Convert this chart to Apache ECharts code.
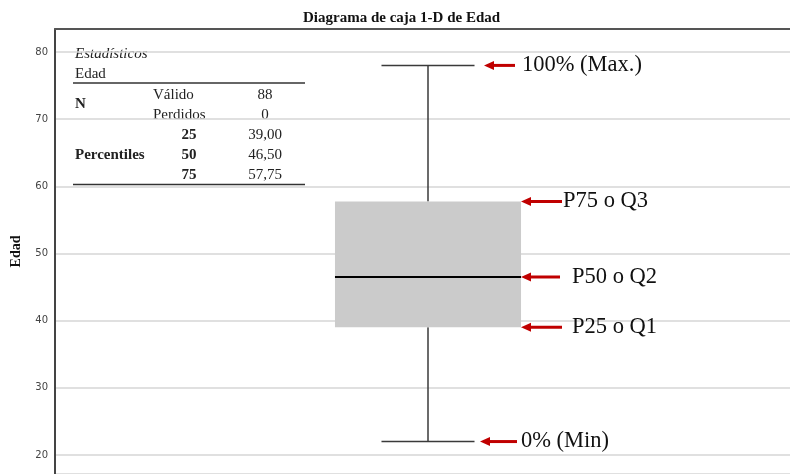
<!DOCTYPE html>
<html><head><meta charset="utf-8">
<script src="https://cdn.jsdelivr.net/npm/echarts@6/dist/echarts.min.js"></script>
<style>html,body{margin:0;padding:0;background:#fff}#c{width:790px;height:474px}</style>
</head><body><div id="c"></div>
<script>
// ---- data ----
const titleText = 'Diagrama de caja 1-D de Edad';
const axisName = 'Edad';
const categories = ['Edad'];
const minValues = [22];
const q1Values = [39];
const medianValues = [46.5];
const q3Values = [57.75];
const maxValues = [78];
const annotationLabels = ['100% (Max.)', 'P75 o Q3', 'P50 o Q2', 'P25 o Q1', '0% (Min)'];
const tableTitle = 'Estadísticos';
const tableVariable = 'Edad';
const nGroupLabel = 'N';
const nLabels = ['Válido', 'Perdidos'];
const nValues = ['88', '0'];
const percentileGroupLabel = 'Percentiles';
const percentileLabels = ['25', '50', '75'];
const percentileValues = ['39,00', '46,50', '57,75'];

// ---- layout (offsets relative to box centre) ----
const arrowLayout = [
  { tip: 56, tail: 87, text: 94 },
  { tip: 93, tail: 134, text: 135 },
  { tip: 93, tail: 132, text: 144 },
  { tip: 93, tail: 134, text: 144 },
  { tip: 52, tail: 89, text: 93 }
];
const serif = "'Liberation Serif','Times New Roman',serif";
const RED = '#c00000';

const boxData = categories.map((c, i) => [i, minValues[i], q1Values[i], medianValues[i], q3Values[i], maxValues[i]]);

function renderItem(params, api) {
  const xi = api.value(0);
  const vals = [api.value(1), api.value(2), api.value(3), api.value(4), api.value(5)];
  const band = api.size([1, 0])[0];
  const cx = api.coord([xi, vals[2]])[0];
  const hw = band * 0.1247;
  const cw = hw / 2;
  const y = v => api.coord([xi, v])[1];
  const yMin = y(vals[0]), yQ1 = y(vals[1]), yMed = y(vals[2]), yQ3 = y(vals[3]), yMax = y(vals[4]);
  const lineStyle = { stroke: '#3a3a3a', lineWidth: 1.5 };
  const children = [
    { type: 'line', shape: { x1: cx, y1: yMax, x2: cx, y2: yQ3 }, style: lineStyle },
    { type: 'line', shape: { x1: cx, y1: yQ1, x2: cx, y2: yMin }, style: lineStyle },
    { type: 'line', shape: { x1: cx - cw, y1: yMax, x2: cx + cw, y2: yMax }, style: lineStyle },
    { type: 'line', shape: { x1: cx - cw, y1: yMin, x2: cx + cw, y2: yMin }, style: lineStyle },
    { type: 'rect', shape: { x: cx - hw, y: yQ3, width: 2 * hw, height: yQ1 - yQ3 }, style: { fill: '#cbcbcb' } },
    { type: 'line', shape: { x1: cx - hw, y1: yMed, x2: cx + hw, y2: yMed }, style: { stroke: '#000', lineWidth: 2.2 } }
  ];
  const annVals = [yMax, yQ3, yMed, yQ1, yMin];
  annVals.forEach((ay, k) => {
    const L = arrowLayout[k];
    const tip = cx + L.tip, tail = cx + L.tail;
    children.push({ type: 'polygon', shape: { points: [[tip, ay], [tip + 10, ay - 4.5], [tip + 10, ay + 4.5]] }, style: { fill: RED } });
    children.push({ type: 'line', shape: { x1: tip + 8, y1: ay, x2: tail, y2: ay }, style: { stroke: RED, lineWidth: 3 } });
    children.push({ type: 'text', x: cx + L.text, y: ay, style: { text: annotationLabels[k], font: '22.5px ' + serif, fill: '#111', verticalAlign: 'middle', align: 'left' } });
  });
  return { type: 'group', children };
}

// ---- table graphic ----
const tx = 75, font14 = '15px ' + serif, bold14 = 'bold 15px ' + serif;
const tableEls = [
  { type: 'rect', shape: { x: 71, y: 38, width: 240, height: 152 }, style: { fill: '#fff' } },
  { type: 'text', x: tx, y: 54, style: { text: tableTitle, font: 'italic 15px ' + serif, fill: '#222', verticalAlign: 'middle' } },
  { type: 'text', x: tx, y: 74, style: { text: tableVariable, font: font14, fill: '#222', verticalAlign: 'middle' } },
  { type: 'line', shape: { x1: 73, y1: 83, x2: 305, y2: 83 }, style: { stroke: '#333', lineWidth: 1.5 } },
  { type: 'line', shape: { x1: 73, y1: 184.5, x2: 305, y2: 184.5 }, style: { stroke: '#333', lineWidth: 1.5 } },
  { type: 'text', x: tx, y: 104, style: { text: nGroupLabel, font: bold14, fill: '#222', verticalAlign: 'middle' } },
  { type: 'text', x: tx, y: 155, style: { text: percentileGroupLabel, font: bold14, fill: '#222', verticalAlign: 'middle' } }
];
nLabels.forEach((l, i) => {
  tableEls.push({ type: 'text', x: 153, y: 95 + 20 * i, style: { text: l, font: font14, fill: '#222', verticalAlign: 'middle' } });
  tableEls.push({ type: 'text', x: 265, y: 95 + 20 * i, style: { text: nValues[i], font: font14, fill: '#222', verticalAlign: 'middle', align: 'center' } });
});
percentileLabels.forEach((l, i) => {
  tableEls.push({ type: 'text', x: 189, y: 135 + 20 * i, style: { text: l, font: bold14, fill: '#222', verticalAlign: 'middle', align: 'center' } });
  tableEls.push({ type: 'text', x: 265, y: 135 + 20 * i, style: { text: percentileValues[i], font: font14, fill: '#222', verticalAlign: 'middle', align: 'center' } });
});

const chart = echarts.init(document.getElementById('c'), null, { renderer: 'canvas' });
chart.setOption({
  animation: false,
  backgroundColor: '#fff',
  title: { text: titleText, left: 298, top: 6, textStyle: { fontFamily: serif, fontWeight: 'bold', fontSize: 15, color: '#111' } },
  grid: { left: 55, right: -11, top: 29, bottom: 0, containLabel: false, outerBoundsMode: 'none' },
  xAxis: {
    type: 'category', data: categories, position: 'top',
    axisLine: { show: true, lineStyle: { color: '#555', width: 2 } },
    axisTick: { show: false }, axisLabel: { show: false }, splitLine: { show: false }
  },
  yAxis: {
    type: 'value', min: 17.17, max: 83.42, splitNumber: 6,
    name: axisName, nameLocation: 'middle', nameGap: 32, nameRotate: 90,
    nameTextStyle: { fontFamily: serif, fontWeight: 'bold', fontSize: 14, color: '#111' },
    axisLine: { show: true, lineStyle: { color: '#444', width: 2 } },
    axisTick: { show: false },
    axisLabel: { showMinLabel: false, showMaxLabel: false, margin: 7, fontSize: 10, color: '#444', fontFamily: "'DejaVu Sans', sans-serif" },
    splitLine: { show: true, lineStyle: { color: '#d6d6d6', width: 1.5 } }
  },
  series: [{ type: 'custom', renderItem, data: boxData, encode: { x: 0, y: [1, 2, 3, 4, 5] }, clip: false }],
  graphic: { elements: [{ type: 'group', z: 100, children: tableEls }] }
});
</script></body></html>
